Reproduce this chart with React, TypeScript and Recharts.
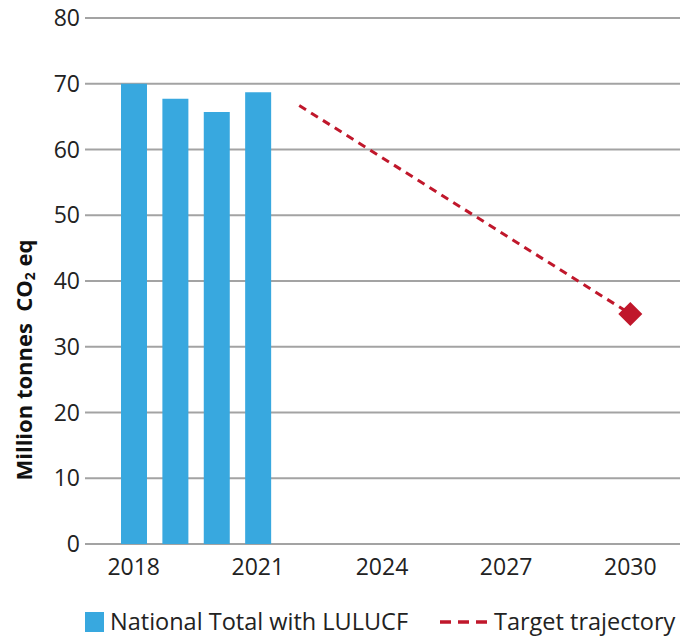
import { ComposedChart, Bar, Line, XAxis, YAxis, CartesianGrid, Legend } from "recharts";

const years = [2018, 2019, 2020, 2021, 2022, 2023, 2024, 2025, 2026, 2027, 2028, 2029, 2030];
const nationalTotal = [70.0, 67.7, 65.7, 68.7, null, null, null, null, null, null, null, null, null];
const targetTrajectory = [null, null, null, null, 66.7, null, null, null, null, null, null, null, 35.0];
const yTicks = [0, 10, 20, 30, 40, 50, 60, 70, 80];

const BLUE = "#38a8df";
const RED = "#c0172b";
const FONT = "'Open Sans', sans-serif";

const data = years.map((y, i) => ({
  year: y,
  national: nationalTotal[i],
  target: targetTrajectory[i],
}));

function TargetDot(props: any) {
  const { cx, cy, payload } = props;
  if (payload.target == null || payload.year !== 2030) return <g key={`d-${payload.year}`} />;
  const r = 12;
  return (
    <path
      key={`d-${payload.year}`}
      d={`M${cx},${cy - r} L${cx + r},${cy} L${cx},${cy + r} L${cx - r},${cy} Z`}
      fill={RED}
    />
  );
}

function YLabel() {
  return (
    <text
      x={23}
      y={360}
      transform="rotate(-90, 23, 360)"
      textAnchor="middle"
      dominantBaseline="central"
      fontFamily={FONT}
      fontWeight={700}
      fontSize={22}
      fill="#111"
    >
      Million tonnes{"\u00a0\u00a0"}CO
      <tspan fontSize={14} dy={6}>2</tspan>
      <tspan dy={-6}> eq</tspan>
    </text>
  );
}

function LegendBox() {
  return (
    <div style={{ height: 43, position: "relative", fontFamily: FONT, fontSize: 23.5, color: "#222" }}>
      <div style={{ position: "absolute", left: 85, top: 18, width: 19, height: 20, background: BLUE }} />
      <div style={{ position: "absolute", left: 110, top: 12, whiteSpace: "nowrap", lineHeight: "30px" }}>
        National Total with LULUCF
      </div>
      <svg style={{ position: "absolute", left: 440, top: 24 }} width={48} height={8}>
        <line x1={0} y1={4} x2={48} y2={4} stroke={RED} strokeWidth={3.5} strokeDasharray="11 7" />
      </svg>
      <div style={{ position: "absolute", left: 494, top: 12, whiteSpace: "nowrap", lineHeight: "30px" }}>
        Target trajectory
      </div>
    </div>
  );
}

export default function App() {
  return (
    <div style={{ position: "absolute", left: 0, top: 0, background: "#fff" }}>
      <ComposedChart width={680} height={637} data={data} margin={{ top: 18, right: 0, bottom: 0, left: 0 }}>
        <CartesianGrid vertical={false} stroke="#a3a3a3" strokeWidth={1.8} />
        <XAxis
          dataKey="year"
          interval={2}
          axisLine={false}
          tickLine={false}
          tickSize={0}
          tickMargin={15}
          height={50}
          padding={{ left: 28, right: 29 }}
          tick={{ fontFamily: FONT, fontSize: 23, fill: "#222" }}
        />
        <YAxis
          domain={[0, 80]}
          ticks={yTicks}
          axisLine={false}
          tickLine={false}
          tickSize={0}
          tickMargin={5}
          width={85}
          tick={{ fontFamily: FONT, fontSize: 23, fill: "#222" }}
          label={<YLabel />}
        />
        <Legend verticalAlign="bottom" content={<LegendBox />} />
        <Bar dataKey="national" fill={BLUE} barSize={26} isAnimationActive={false} />
        <Line
          dataKey="target"
          stroke={RED}
          strokeWidth={3}
          strokeDasharray="8 6"
          connectNulls
          dot={<TargetDot />}
          activeDot={false}
          isAnimationActive={false}
        />
      </ComposedChart>
    </div>
  );
}
